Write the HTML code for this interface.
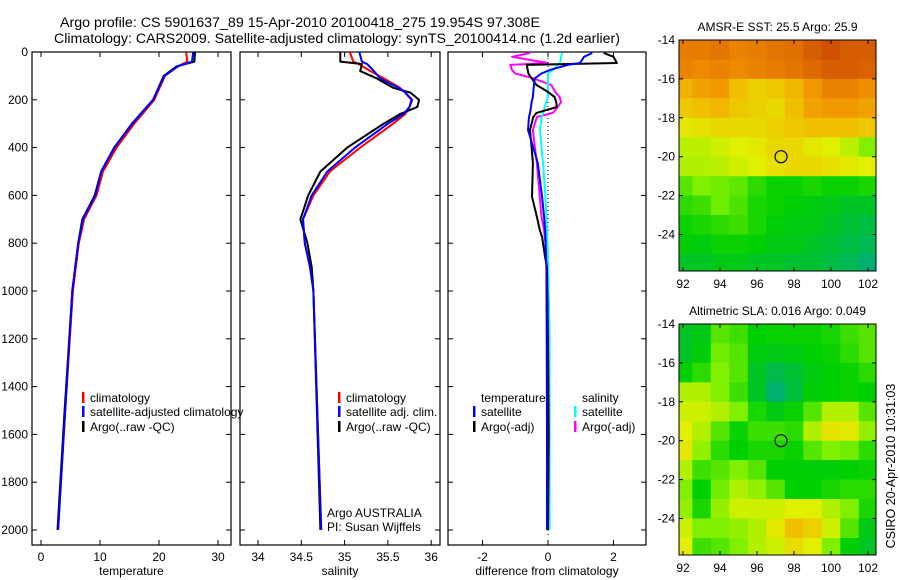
<!DOCTYPE html>
<html><head><meta charset="utf-8">
<style>
html,body{margin:0;padding:0;background:#fff;}
svg{display:block;font-family:"Liberation Sans",sans-serif;}
</style></head>
<body>
<svg id="fig" width="900" height="580" viewBox="0 0 900 580" xmlns="http://www.w3.org/2000/svg">
<text x="60" y="27" font-size="13.5" textLength="480" lengthAdjust="spacingAndGlyphs">Argo profile: CS 5901637_89 15-Apr-2010 20100418_275 19.954S 97.308E</text>
<text x="54" y="43" font-size="13.5" textLength="566" lengthAdjust="spacingAndGlyphs">Climatology: CARS2009. Satellite-adjusted climatology: synTS_20100414.nc (1.2d earlier)</text>
<g id="plots"></g>
<text transform="translate(895,466) rotate(-90)" text-anchor="middle" font-size="12.5">CSIRO 20-Apr-2010 10:31:03</text>
</svg>
<script>
// ---- profile data (depth m, value) ----
const tDepth = [0,40,60,100,200,300,400,500,600,700,800,1000,1500,2000];
const tArgo  = [26.1,26.0,23.0,20.8,19.0,15.4,12.4,10.2,9.1,7.0,6.3,5.3,4.0,2.8];
const tClim  = [24.6,24.8,23.2,21.0,19.2,15.8,12.8,10.5,9.4,7.3,6.4,5.4,4.1,2.9];
const tSat   = [25.8,25.6,23.2,20.9,19.0,15.5,12.4,10.2,9.2,7.1,6.3,5.3,4.1,2.9];
const sDepth = [0,40,50,80,110,150,170,200,230,260,300,400,500,600,700,800,900,1000,2000];
const sArgo  = [34.95,34.95,35.2,35.18,35.37,35.56,35.76,35.86,35.84,35.64,35.45,35.03,34.72,34.58,34.49,34.57,34.62,34.64,34.72];
const sClim  = [35.06,35.1,35.16,35.3,35.45,35.64,35.7,35.77,35.75,35.7,35.56,35.18,34.83,34.64,34.52,34.54,34.6,34.64,34.73];
const sSat   = [35.17,35.2,35.26,35.34,35.41,35.62,35.7,35.78,35.75,35.68,35.5,35.12,34.8,34.62,34.52,34.54,34.6,34.64,34.73];
const dDepth = [4,20,46,54,75,90,110,138,167,188,209,230,255,272,326,400,465,606,690,745,774,858,900,1200,1600,2000];
const dTArgo = [1.7,2.0,2.1,-0.65,-0.62,-0.6,-0.5,-0.35,0.0,0.2,0.25,0.27,-0.35,-0.45,-0.55,-0.5,-0.46,-0.49,-0.34,-0.25,-0.18,-0.09,-0.03,0.0,0.02,0.0];
const dTSat  = [1.35,1.1,0.98,0.6,0.06,-0.2,-0.4,-0.43,-0.45,-0.46,-0.5,-0.52,-0.55,-0.58,-0.61,-0.45,-0.31,-0.18,-0.12,-0.09,-0.08,-0.06,-0.05,-0.04,-0.03,-0.03];
const dSArgo = [-0.55,-1.1,0.0,-1.15,-1.1,-1.0,-0.45,0.1,0.22,0.35,0.4,0.3,0.15,-0.34,-0.46,-0.4,-0.34,-0.25,-0.2,-0.12,-0.1,-0.03,0.0,0.05,0.0,0.0];
const dSSat  = [0.43,0.4,0.37,0.3,0.15,0.0,0.0,0.0,0.0,0.0,-0.05,-0.1,-0.15,-0.2,-0.24,-0.2,-0.15,-0.08,-0.05,-0.03,-0.02,0.0,0.0,0.05,0.05,0.05];
const depthTicks = [0,200,400,600,800,1000,1200,1400,1600,1800,2000];
const tTicks = [0,10,20,30];
const sTicks = [34,34.5,35,35.5,36];
const sTickLabels = ["34","34.5","35","35.5","36"];
const dTicks = [-2,0,2];
// ---- map data (colour index 0=cyan .. 1=dark red), rows from -14 southward, cols from 92 eastward ----
const mapLats = [-14,-15,-16,-17,-18,-19,-20,-21,-22,-23,-24,-25];
const mapLons = [92,93,94,95,96,97,98,99,100,101,102];
const sstGrid = [
[0.85,0.85,0.86,0.84,0.85,0.86,0.87,0.9,0.92,0.9,0.9],
[0.84,0.83,0.84,0.83,0.84,0.85,0.86,0.88,0.9,0.9,0.89],
[0.75,0.78,0.8,0.72,0.68,0.7,0.74,0.8,0.84,0.84,0.82],
[0.7,0.72,0.74,0.7,0.68,0.66,0.72,0.78,0.8,0.8,0.78],
[0.62,0.64,0.66,0.66,0.66,0.68,0.7,0.72,0.72,0.72,0.7],
[0.56,0.56,0.58,0.6,0.62,0.66,0.66,0.62,0.6,0.56,0.5],
[0.55,0.55,0.56,0.58,0.6,0.64,0.66,0.66,0.64,0.62,0.6],
[0.45,0.5,0.48,0.46,0.4,0.36,0.36,0.38,0.36,0.36,0.38],
[0.4,0.42,0.48,0.44,0.38,0.36,0.34,0.33,0.32,0.3,0.3],
[0.36,0.38,0.4,0.42,0.38,0.34,0.33,0.32,0.3,0.28,0.26],
[0.34,0.33,0.36,0.36,0.35,0.32,0.32,0.3,0.28,0.26,0.24],
[0.3,0.3,0.32,0.32,0.3,0.3,0.28,0.28,0.26,0.24,0.2]];
const slaGrid = [
[0.3,0.32,0.45,0.42,0.35,0.36,0.36,0.36,0.38,0.42,0.45],
[0.3,0.34,0.48,0.45,0.33,0.32,0.33,0.35,0.36,0.4,0.45],
[0.35,0.4,0.5,0.45,0.3,0.25,0.28,0.33,0.34,0.36,0.4],
[0.55,0.55,0.5,0.42,0.3,0.2,0.27,0.34,0.35,0.36,0.35],
[0.58,0.58,0.55,0.5,0.38,0.32,0.36,0.45,0.55,0.55,0.45],
[0.6,0.55,0.45,0.36,0.42,0.42,0.4,0.55,0.63,0.62,0.52],
[0.62,0.52,0.4,0.35,0.38,0.38,0.36,0.45,0.5,0.48,0.4],
[0.55,0.42,0.45,0.5,0.45,0.35,0.34,0.34,0.34,0.35,0.36],
[0.5,0.35,0.48,0.55,0.52,0.45,0.35,0.35,0.38,0.4,0.4],
[0.52,0.38,0.52,0.58,0.58,0.58,0.6,0.6,0.55,0.5,0.38],
[0.58,0.5,0.5,0.52,0.55,0.62,0.72,0.68,0.58,0.45,0.32],
[0.6,0.42,0.45,0.5,0.55,0.58,0.65,0.6,0.5,0.35,0.3]];
const argoLon = 97.3, argoLat = -20.0;
const latTicks = [-14,-16,-18,-20,-22,-24];
const lonTicks = [92,94,96,98,100,102];

const NS = "http://www.w3.org/2000/svg";
const root = document.getElementById('plots');
function el(tag, attrs, parent){const e=document.createElementNS(NS,tag);for(const k in attrs)e.setAttribute(k,attrs[k]);(parent||root).appendChild(e);return e;}
function txt(s, attrs, parent){const e=el('text',attrs,parent);e.textContent=s;return e;}

const TOP=52, BOT=545;
const yD = d => TOP + d*0.239;

function panel(name, x0, x1, xf, ticks, labels, xlabel, showY){
  const g = el('g',{});
  
  
  const fr = el('rect',{x:x0,y:TOP,width:x1-x0,height:BOT-TOP,fill:'none',stroke:'#000','stroke-width':1.2},g);
  
  
  ticks.forEach((t,i)=>{
    const x=xf(t);
    el('line',{x1:x,x2:x,y1:BOT,y2:BOT-5,stroke:'#000'},g);
    el('line',{x1:x,x2:x,y1:TOP,y2:TOP+5,stroke:'#000'},g);
    const l=txt(labels[i],{x:x,y:BOT+16,'font-size':12,'text-anchor':'middle'},g);
    
    
  });
  depthTicks.forEach(d=>{
    const y=yD(d);
    el('line',{x1:x0,x2:x0+5,y1:y,y2:y,stroke:'#000'},g);
    el('line',{x1:x1,x2:x1-5,y1:y,y2:y,stroke:'#000'},g);
    if(showY){
      const l=txt(String(d),{x:x0-4,y:y+4,'font-size':12,'text-anchor':'end'},g);
      
      
    }
  });
  const xl=txt(xlabel,{x:(x0+x1)/2,y:BOT+30,'font-size':12,'text-anchor':'middle'},g);
  
  
  return g;
}
function line(g, depths, vals, xf, color, name, w){
  const pts = depths.map((d,i)=>xf(vals[i]).toFixed(1)+','+yD(d).toFixed(1)).join(' ');
  const p = el('polyline',{points:pts,fill:'none',stroke:color,'stroke-width':w||2,'stroke-linejoin':'round'},g);
  
  
}
function legend(g, x, y, color, label, name){
  el('rect',{x:x,y:y-10,width:2.5,height:11,fill:color},g);
  const t=txt(label,{x:x+8,y:y,'font-size':12},g);
  
  
}

// temperature
const xT = v => 41 + v*5.9;
const g1 = panel('temperature-panel',32,231,xT,tTicks,tTicks.map(String),'temperature',true);
line(g1,tDepth,tClim,xT,'#f00','temperature-climatology-line');
line(g1,tDepth,tArgo,xT,'#000','temperature-argo-line');
line(g1,tDepth,tSat,xT,'#00f','temperature-satellite-line');
legend(g1,82,402,'#f00','climatology','legend-climatology');
legend(g1,82,416,'#00f','satellite-adjusted climatology','legend-satellite-adjusted');
legend(g1,82,431,'#000','Argo(..raw -QC)','legend-argo');

// salinity
const xS = v => 258 + (v-34)*86.6;
const g2 = panel('salinity-panel',240,440,xS,sTicks,sTickLabels,'salinity',false);
line(g2,sDepth,sClim,xS,'#f00','salinity-climatology-line');
line(g2,sDepth,sArgo,xS,'#000','salinity-argo-line');
line(g2,sDepth,sSat,xS,'#00f','salinity-satellite-line');
legend(g2,338,402,'#f00','climatology','legend-sal-climatology');
legend(g2,338,416,'#00f','satellite adj. clim.','legend-sal-satellite');
legend(g2,338,431,'#000','Argo(..raw -QC)','legend-sal-argo');
const a1=txt('Argo AUSTRALIA',{x:327,y:517,'font-size':12},g2);


const a2=txt('PI: Susan Wijffels',{x:327,y:531,'font-size':12},g2);



// differences
const xDf = v => 548 + v*32.75;
const g3 = panel('difference-panel',448,646,xDf,dTicks,dTicks.map(String),'difference from climatology',false);
el('line',{x1:xDf(0),x2:xDf(0),y1:TOP+2,y2:yD(2000)+5,stroke:'#000','stroke-dasharray':'1,3'},g3);
line(g3,dDepth,dSArgo,xDf,'#f0f','salinity-argo-diff-line');
line(g3,dDepth,dSSat,xDf,'#0ff','salinity-satellite-diff-line');
line(g3,dDepth,dTArgo,xDf,'#000','temperature-argo-diff-line');
line(g3,dDepth,dTSat,xDf,'#00f','temperature-satellite-diff-line');
const lt=txt('temperature',{x:481,y:402,'font-size':12},g3);


const ls=txt('salinity',{x:582,y:402,'font-size':12},g3);


legend(g3,473,416,'#00f','satellite','legend-diff-t-satellite');
legend(g3,473,431,'#000','Argo(-adj)','legend-diff-t-argo');
legend(g3,574,416,'#0ff','satellite','legend-diff-s-satellite');
legend(g3,574,431,'#f0f','Argo(-adj)','legend-diff-s-argo');

// ---- maps ----
const stops=[[0,[0,200,200]],[0.2,[0,176,112]],[0.35,[0,208,0]],[0.5,[128,240,0]],[0.6,[224,240,0]],[0.72,[240,192,0]],[0.82,[240,144,0]],[0.92,[208,80,0]],[1,[176,32,0]]];
function cmap(v){
  for(let i=1;i<stops.length;i++){ if(v<=stops[i][0]){const a=stops[i-1],b=stops[i];const f=(v-a[0])/(b[0]-a[0]);
    const c=a[1].map((x,k)=>Math.round(x+(b[1][k]-x)*f));return 'rgb('+c.join(',')+')';}}
  return 'rgb(176,32,0)';
}
function map(name, top, grid, title){
  const L=679,R=876,B=top+231;
  const xL = lon => 683 + (lon-92)*18.5;
  const yL = lat => top + (-14-lat)*19.45;
  const g = el('g',{});
  
  
  const cid = name+'-clip';
  const cp = el('clipPath',{id:cid},g);
  el('rect',{x:L,y:top,width:R-L,height:B-top},cp);
  const cg = el('g',{'clip-path':'url(#'+cid+')'},g);
  grid.forEach((row,r)=>row.forEach((v,c)=>{
    const x0 = c===0 ? L : xL(mapLons[c]-0.5), x1 = c===row.length-1 ? R : xL(mapLons[c]+0.5);
    const y0 = r===0 ? top : yL(mapLats[r]), y1 = r===grid.length-1 ? B : yL(mapLats[r]-1);
    const cell = el('rect',{x:x0.toFixed(1),y:y0.toFixed(1),width:(x1-x0+0.6).toFixed(1),height:(y1-y0+0.6).toFixed(1),fill:cmap(v)},cg);
    
    
  }));
  el('rect',{x:L,y:top,width:R-L,height:B-top,fill:'none',stroke:'#000'},g);
  const circ = el('circle',{cx:xL(argoLon),cy:yL(argoLat),r:6,fill:'none',stroke:'#000','stroke-width':1.2},g);
  
  
  latTicks.forEach(t=>{const y=yL(t);el('line',{x1:L,x2:L+4,y1:y,y2:y,stroke:'#000'},g);el('line',{x1:R,x2:R-4,y1:y,y2:y,stroke:'#000'},g);
    const l=txt(String(t),{x:L-4,y:y+4,'font-size':12,'text-anchor':'end'},g);
    
    });
  lonTicks.forEach(t=>{const x=xL(t);el('line',{x1:x,x2:x,y1:B,y2:B-4,stroke:'#000'},g);el('line',{x1:x,x2:x,y1:top,y2:top+4,stroke:'#000'},g);
    const l=txt(String(t),{x:x,y:B+17,'font-size':12,'text-anchor':'middle'},g);
    
    });
  const tt=txt(title,{x:(L+R)/2,y:top-9,'font-size':12,'text-anchor':'middle'},g);
  
  
}
map('sst-map',40,sstGrid,'AMSR-E SST: 25.5 Argo: 25.9');
map('sla-map',324,slaGrid,'Altimetric SLA: 0.016 Argo: 0.049');
</script>
</body></html>
